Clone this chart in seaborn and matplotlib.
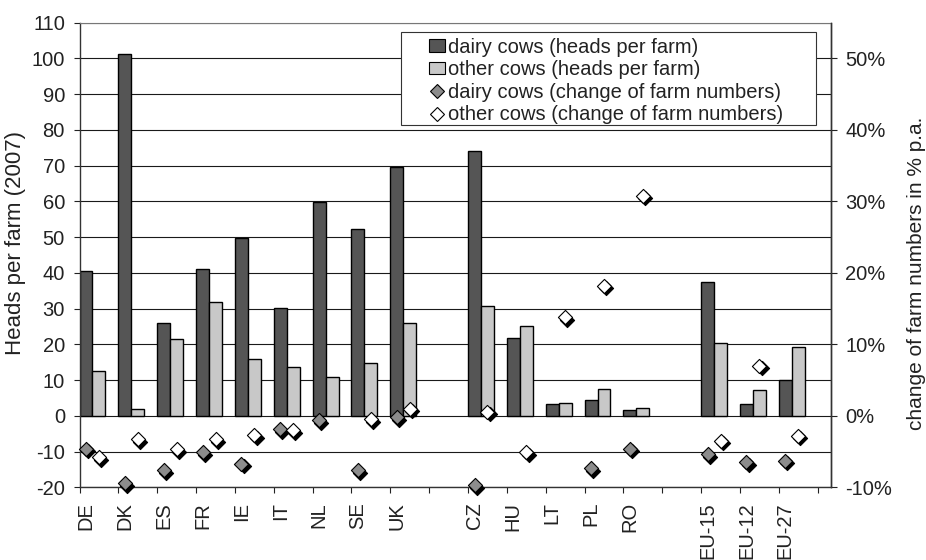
import numpy as np
import pandas as pd
import matplotlib
matplotlib.use("Agg")
import matplotlib.pyplot as plt
import matplotlib.transforms as mtransforms
from matplotlib.patches import Patch, Rectangle
from matplotlib.lines import Line2D
from matplotlib.ticker import FuncFormatter
import seaborn as sns

# Daten (blank entries are the gaps between country groups)
categories = ["DE", "DK", "ES", "FR", "IE", "IT", "NL", "SE", "UK", " ",
              "CZ", "HU", "LT", "PL", "RO", "  ", "EU-15", "EU-12", "EU-27"]
dairy_heads = [40.5, 101.3, 26.1, 41.1, 49.7, 30.2, 59.8, 52.2, 69.5, np.nan,
               74.2, 21.8, 3.3, 4.3, 1.6, np.nan, 37.5, 3.3, 9.9]
other_heads = [12.6, 1.8, 21.5, 31.8, 15.8, 13.6, 11.0, 14.9, 26.0, np.nan,
               30.8, 25.2, 3.5, 7.5, 2.1, np.nan, 20.4, 7.1, 19.2]
dairy_change = [-4.6, -9.4, -7.6, -5.1, -6.7, -1.9, -0.6, -7.6, -0.2, np.nan,
                -9.7, np.nan, np.nan, -7.3, -4.6, np.nan, -5.4, -6.5, -6.3]
other_change = [-5.8, -3.3, -4.7, -3.3, -2.7, -2.0, np.nan, -0.5, 1.0, np.nan,
                0.6, -5.1, 13.8, 18.2, 30.8, np.nan, -3.5, 7.0, -2.8]

lab_dairy = "dairy cows (heads per farm)"
lab_other = "other cows (heads per farm)"
lab_dchg = "dairy cows (change of farm numbers)"
lab_ochg = "other cows (change of farm numbers)"

df = pd.DataFrame({
    "country": categories * 2,
    "heads": dairy_heads + other_heads,
    "series": [lab_dairy] * len(categories) + [lab_other] * len(categories),
})

sns.set_style("ticks")
plt.rcParams["font.family"] = ["Liberation Sans", "DejaVu Sans"]
plt.rcParams["axes.unicode_minus"] = False
plt.rcParams["text.color"] = "#222222"
plt.rcParams["axes.labelcolor"] = "#222222"
plt.rcParams["xtick.color"] = "#222222"
plt.rcParams["ytick.color"] = "#222222"

fig = plt.figure(figsize=(9.26, 5.6), dpi=100)
ax = fig.add_axes([0.0859, 0.1298, 0.897 - 0.0859, 0.9595 - 0.1298])

# third, empty hue level keeps the Excel-like layout (bars in the left 2/3 of a slot)
sns.barplot(data=df, x="country", y="heads", hue="series", order=categories,
            hue_order=[lab_dairy, lab_other, "pad"],
            palette={lab_dairy: "#555555", lab_other: "#c8c8c8", "pad": "white"},
            width=1, saturation=1, edgecolor="black", linewidth=1,
            errorbar=None, legend=False, ax=ax)

idx = np.arange(len(categories))
ax2 = ax.twinx()

shadow = ax2.transData + mtransforms.ScaledTranslation(0.022, -0.025, fig.dpi_scale_trans)
for xs, ys, fc in [(idx - 1 / 3, dairy_change, "#8c8c8c"), (idx, other_change, "white")]:
    sns.scatterplot(x=xs, y=ys, ax=ax2, marker="D", s=52, color="black",
                    edgecolor="black", linewidth=0.8, transform=shadow,
                    zorder=3, clip_on=False, legend=False)
    sns.scatterplot(x=xs, y=ys, ax=ax2, marker="D", s=52, color=fc,
                    edgecolor="black", linewidth=0.8, zorder=4,
                    clip_on=False, legend=False)

# osie
ax.set_xlim(-0.5, len(categories) - 0.5 + 1 / 3)
ax.set_ylim(-20, 110)
ax2.set_ylim(-10, 55)

bounds = np.arange(len(categories) + 1) - 0.5
ax.set_xticks(bounds, labels=[""] * len(bounds))
lab_pos = [i - 1 / 3 for i, c in enumerate(categories) if c.strip()]
lab_txt = [c for c in categories if c.strip()]
ax.set_xticks(lab_pos, labels=lab_txt, minor=True)
ax.tick_params(axis="x", which="major", length=4.5, width=0.8, direction="out")
ax.tick_params(axis="x", which="minor", length=0, pad=10.5, labelsize=14.5,
               labelrotation=90)
ax.set_xlabel("")

ax.set_yticks(range(-20, 111, 10))
ax.tick_params(axis="y", length=4.5, width=0.8, pad=6, labelsize=14.5)
ax2.set_yticks(range(-10, 51, 10))
ax2.yaxis.set_major_formatter(FuncFormatter(lambda v, p: f"{v:.0f}%"))
ax2.tick_params(axis="y", length=4.5, width=0.8, pad=6, labelsize=14.5)

ax.yaxis.grid(True, color="#1a1a1a", linewidth=0.8)
ax.xaxis.grid(False)
ax.set_axisbelow(True)

for s in ["left", "bottom", "right"]:
    ax.spines[s].set_color("#333333")
    ax.spines[s].set_linewidth(1)
ax.spines["top"].set_color("#777777")
ax.spines["top"].set_linewidth(0.8)
for s in ["left", "top", "bottom"]:
    ax2.spines[s].set_visible(False)
ax2.spines["right"].set_color("#333333")
ax2.spines["right"].set_linewidth(1)

ax.set_ylabel("Heads per farm (2007)", fontsize=16)
ax.yaxis.set_label_coords(-0.071, 0.526)
ax2.set_ylabel("change of farm numbers in % p.a.", fontsize=15)
ax2.yaxis.set_label_coords(1.102, 0.461)

# legenda
ax2.add_patch(Rectangle((0.428, 0.780), 0.553, 0.2006, transform=ax2.transAxes,
                        facecolor="white", edgecolor="#333333", linewidth=0.8,
                        zorder=5))
handles = [
    Patch(facecolor="#555555", edgecolor="black", linewidth=0.8),
    Patch(facecolor="#c8c8c8", edgecolor="black", linewidth=0.8),
    Line2D([], [], marker="D", ls="none", ms=7, mfc="#8c8c8c", mec="black", mew=0.8),
    Line2D([], [], marker="D", ls="none", ms=7, mfc="white", mec="black", mew=0.8),
]
leg = ax2.legend(handles, [lab_dairy, lab_other, lab_dchg, lab_ochg],
                 loc="upper left", bbox_to_anchor=(0.465, 0.968), frameon=False,
                 borderpad=0, borderaxespad=0, handlelength=0.8, handleheight=0.6,
                 handletextpad=0.15, labelspacing=0.18, fontsize=14.5)
leg.set_zorder(6)

fig.savefig("out.png", dpi=100)
